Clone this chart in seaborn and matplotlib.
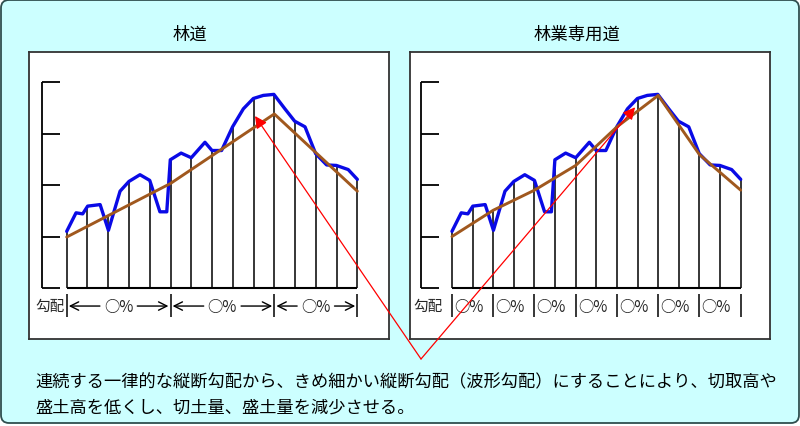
import numpy as np
import matplotlib.pyplot as plt
import seaborn as sns
from matplotlib.patches import FancyBboxPatch

# 現況地盤線（測点, 高さ）
ground_x = [0.0, 0.45, 0.77, 1.01, 1.61, 2.01, 2.57, 3.0, 3.53, 4.0, 4.49, 4.82, 4.99,
            5.51, 6.0, 6.66, 7.0, 7.46, 7.99, 8.51, 8.99, 9.47, 9.98, 10.51, 10.98,
            11.48, 11.99, 12.52, 12.99, 13.56, 14.0]
ground_y = [1.10, 1.46, 1.44, 1.59, 1.62, 1.12, 1.88, 2.07, 2.20, 2.09, 1.48, 1.48, 2.49,
            2.62, 2.53, 2.83, 2.67, 2.67, 3.13, 3.48, 3.68, 3.74, 3.76, 3.48, 3.24,
            3.13, 2.61, 2.39, 2.38, 2.30, 2.11]

# 計画縦断線
rindo_x = [0, 5, 10, 14]
rindo_y = [0.99, 2.03, 3.38, 1.88]
sengyo_x = [0, 2, 4, 6, 8, 10, 12, 14]
sengyo_y = [1.00, 1.51, 1.90, 2.38, 3.13, 3.74, 2.59, 1.90]

stations = np.arange(15)
y_ticks = [0, 1, 2, 3, 4]
titles = ['林道', '林業専用道']
grade_word = '勾配'
grade_label = '○%'
caption = ['連続する一律的な縦断勾配から、きめ細かい縦断勾配（波形勾配）にすることにより、切取高や',
           '盛土高を低くし、切土量、盛土量を減少させる。']

BLUE = '#0a0ae6'
BROWN = '#a0581e'
W, H = 800, 427

sns.set_theme(style='white')
plt.rcParams['font.family'] = ['Noto Sans CJK JP', 'DejaVu Sans']

fig = plt.figure(figsize=(8, 4.27), dpi=100, facecolor='white')

# 背景（水色の角丸枠）
bg = fig.add_axes([0, 0, 1, 1])
bg.set_xlim(0, W)
bg.set_ylim(H, 0)
bg.axis('off')
bg.add_patch(FancyBboxPatch((1, 1), 798, 423, boxstyle='round,pad=0,rounding_size=8',
                            fc='#ccffff', ec='#2f4f4f', lw=1.3))
bg.text(190, 35, titles[0], fontsize=12.5, ha='center', va='center', color='black')
bg.text(577, 35, titles[1], fontsize=12.5, ha='center', va='center', color='black')
for i, line in enumerate(caption):
    bg.text(35, 382 + 26 * i, line, fontsize=12.4, ha='left', va='center', color='black')


def panel(rect, xlim, axis_x, grade_x, grade_y):
    ax = fig.add_axes(rect)
    ax.set_facecolor('white')
    ax.set_xlim(*xlim)
    ax.set_ylim(-0.99, 4.583)
    ax.set_xticks([])
    ax.set_yticks([])
    for sp in ax.spines.values():
        sp.set_visible(True)
        sp.set_color('#333333')
        sp.set_linewidth(1.3)
    top = np.maximum(np.interp(stations, ground_x, ground_y),
                     np.interp(stations, grade_x, grade_y))
    ax.vlines(stations, 0, top, color='black', lw=1.1)
    ax.hlines(0, stations[0], stations[-1], color='black', lw=1.5)
    ax.vlines(axis_x, y_ticks[0], y_ticks[-1], color='black', lw=1.3)
    ax.hlines(y_ticks, axis_x, axis_x + 0.87, color='black', lw=1.3)
    sns.lineplot(x=ground_x, y=ground_y, ax=ax, color=BLUE, lw=2.4, estimator=None)
    sns.lineplot(x=grade_x, y=grade_y, ax=ax, color=BROWN, lw=2.1, estimator=None)
    ax.set_xlabel('')
    ax.set_ylabel('')
    return ax


ax1 = panel([29 / W, (H - 340) / H, 360 / W, 287 / H], (-1.816, 15.525), -1.19, rindo_x, rindo_y)
ax2 = panel([410 / W, (H - 340) / H, 360 / W, 287 / H], (-2.035, 15.42), -1.52, sengyo_x, sengyo_y)

# 林道：勾配区間（矢印つき）
lab_y = -0.35
ax1.text(-0.80, lab_y, grade_word, fontsize=10.5, ha='center', va='center')
ax1.vlines(rindo_x, -0.12, -0.56, color='black', lw=1.1)
for a, b in zip(rindo_x[:-1], rindo_x[1:]):
    c = (a + b) / 2
    ax1.text(c, lab_y, grade_label, fontsize=11, ha='center', va='center')
    for start, end in [(c - 0.9, a + 0.1), (c + 0.9, b - 0.1)]:
        ax1.annotate('', xy=(end, lab_y), xytext=(start, lab_y),
                     arrowprops=dict(arrowstyle='->', color='black', lw=1.0,
                                     mutation_scale=15, shrinkA=0, shrinkB=0))

# 林業専用道：細かい勾配区間
ax2.text(-1.17, lab_y, grade_word, fontsize=10.5, ha='center', va='center')
ax2.vlines(sengyo_x, -0.12, -0.56, color='black', lw=1.1)
for a in sengyo_x[:-1]:
    ax2.text(a + 0.1, lab_y, grade_label, fontsize=11, ha='left', va='center')

# 赤い引き出し線
ov = fig.add_axes([0, 0, 1, 1])
ov.set_xlim(0, W)
ov.set_ylim(H, 0)
ov.axis('off')
ov.patch.set_visible(False)
ov.set_zorder(10)
vertex = (421, 360)
for ax, tip in [(ax1, (9.07, 3.34)), (ax2, (8.88, 3.51))]:
    ov.annotate('', xy=tip, xycoords=ax.transData, xytext=vertex, textcoords='data',
                arrowprops=dict(arrowstyle='-|>,head_length=0.6,head_width=0.3',
                                color='#ff0000', lw=0.9, mutation_scale=12,
                                shrinkA=0, shrinkB=0))

fig.savefig('out.png', dpi=100)
